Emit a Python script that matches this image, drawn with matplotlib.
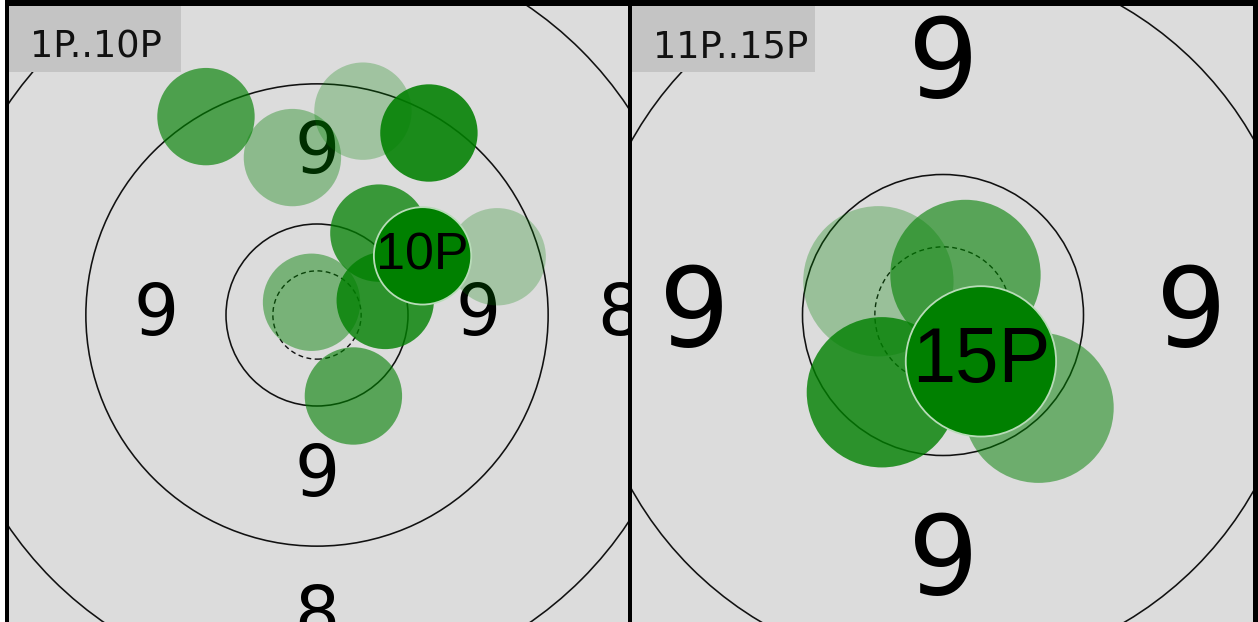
import matplotlib
matplotlib.use('Agg')
import matplotlib.pyplot as plt
from matplotlib.patches import Circle, Rectangle

# ---- data (target units, y up, centre of target = 0,0) ----
ring_radii = [10.0, 25.4, 41.1]          # 10-ring, 9-ring, 8-ring
inner_ring_radius = 4.85                 # dashed inner ten
shot_radius = 5.35

left_title = "1P..10P"
left_shot_x = [19.8, 5.05, -2.7, -0.6, 4.0, -12.2, 6.8, 7.5, 12.3, 11.6]
left_shot_y = [6.4, 22.4, 17.3, 1.4, -8.9, 21.8, 9.0, 1.6, 20.0, 6.5]
left_shot_alpha = [0.25, 0.27, 0.36, 0.45, 0.60, 0.65, 0.74, 0.80, 0.88, 1.0]
left_last_label = "10P"

right_title = "11P..15P"
right_shot_x = [-4.6, 6.8, 1.6, -4.35, 2.7]
right_shot_y = [2.4, -6.6, 2.85, -5.5, -3.3]
right_shot_alpha = [0.30, 0.50, 0.60, 0.80, 1.0]
right_last_label = "15P"

ring_label_text = ["9", "8"]
left_ring_label_dirs = {"9": [(0, 1), (0, -1), (-1, 0), (1, 0)], "8": [(1, 0), (0, -1)]}
right_ring_label_dirs = {"9": [(0, 1), (0, -1), (-1, 0), (1, 0)], "8": []}

W, H = 1258, 622
fig = plt.figure(figsize=(W / 100, H / 100), dpi=100, facecolor='black')
fig.patches.append(Rectangle((0, 0), 5 / W, 1, transform=fig.transFigure,
                             facecolor='white', edgecolor='none', zorder=0))

GREEN = (0, 0.5, 0)


def make_panel(x0, x1, top, scale, cx, cy, title, sx, sy, salpha, last_label,
               label_dirs, ring_fs, shot_fs, box_w):
    ax = fig.add_axes([x0 / W, 0, (x1 - x0) / W, (H - top) / H])
    ax.set_facecolor('#dcdcdc')
    ax.set_xlim((x0 - cx) / scale, (x1 - cx) / scale)
    ax.set_ylim(-(H - cy) / scale, (cy - top) / scale)
    ax.set_xticks([])
    ax.set_yticks([])
    for s in ax.spines.values():
        s.set_visible(False)

    for r in ring_radii:
        ax.add_patch(Circle((0, 0), r, fill=False, edgecolor='#111111', lw=1.15, zorder=1))
    ax.add_patch(Circle((0, 0), inner_ring_radius, fill=False, edgecolor='#111111',
                        lw=1.0, linestyle=(0, (3.5, 2.5)), zorder=1))

    # ring labels
    mids = {"9": (ring_radii[0] + ring_radii[1]) / 2, "8": (ring_radii[1] + ring_radii[2]) / 2}
    for lab in ring_label_text:
        for dx, dy in label_dirs[lab]:
            ax.text(dx * mids[lab], dy * mids[lab], lab, ha='center', va='center',
                    fontsize=ring_fs, color='black', family='DejaVu Sans',
                    zorder=2, clip_on=True)

    n = len(sx)
    for i, (x, y, a) in enumerate(zip(sx, sy, salpha)):
        last = (i == n - 1)
        ax.add_patch(Circle((x, y), shot_radius, facecolor=GREEN, alpha=None if last else a,
                            edgecolor='#b8dcb8' if last else 'none', lw=1.3,
                            zorder=4 if last else 3))
    ax.text(sx[-1], sy[-1], last_label, ha='center', va='center', fontsize=shot_fs,
            color='black', family='Liberation Sans', zorder=5)

    # title box
    ax.add_patch(Rectangle((0, 1 - 66 / (H - top)), box_w / (x1 - x0), 66 / (H - top),
                           transform=ax.transAxes, facecolor='#c4c4c4',
                           edgecolor='none', zorder=6))
    ax.text(21 / (x1 - x0), 1 - 51 / (H - top), title, transform=ax.transAxes,
            ha='left', va='baseline', fontsize=26.5, color='#111111',
            family='DejaVu Sans', zorder=7)
    return ax


make_panel(9, 628, 6, 9.1, 317, 315, left_title, left_shot_x, left_shot_y,
           left_shot_alpha, left_last_label, left_ring_label_dirs, 51, 37.5, 172)
make_panel(632, 1253, 6, 14.05, 943, 315, right_title, right_shot_x, right_shot_y,
           right_shot_alpha, right_last_label, right_ring_label_dirs, 80, 56, 183)

fig.savefig('out.png', dpi=100, facecolor=fig.get_facecolor())
